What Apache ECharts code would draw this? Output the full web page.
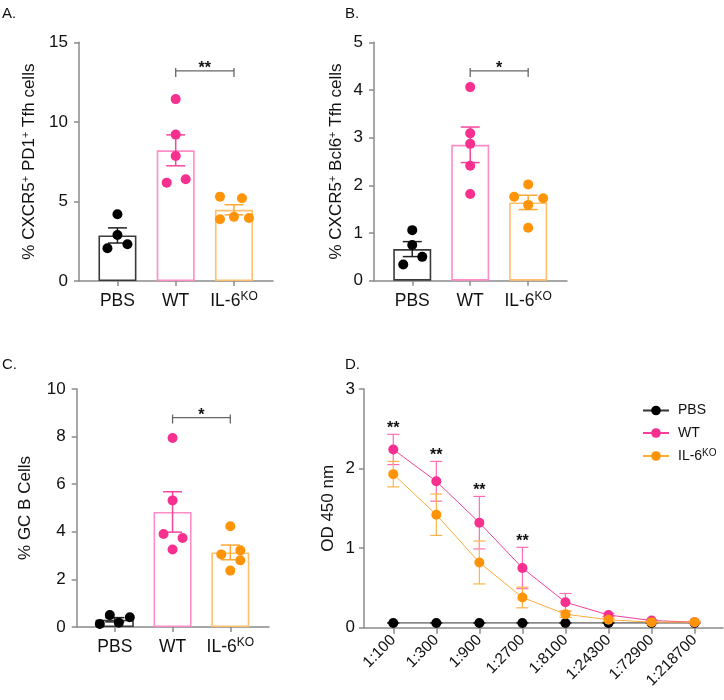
<!DOCTYPE html>
<html><head><meta charset="utf-8">
<script src="https://cdn.jsdelivr.net/npm/echarts@6/dist/echarts.min.js"></script>
<style>html,body{margin:0;padding:0;background:#fff}#c{width:724px;height:700px}</style>
</head><body><div id="c"></div>
<script>
// ================= DATA =================
const groups = ['PBS', 'WT', 'IL-6KO'];

// A. % CXCR5+ PD1+ Tfh cells
const pd1PBS = [4.19, 2.89, 2.06, 2.31];
const pd1WT  = [11.43, 9.20, 7.86, 6.18, 6.39];
const pd1KO  = [5.30, 5.20, 3.88, 4.03, 3.96];

// B. % CXCR5+ Bcl6+ Tfh cells
const bcl6PBS = [1.06, 0.75, 0.50, 0.34];
const bcl6WT  = [4.06, 3.09, 2.87, 2.41, 1.82];
const bcl6KO  = [2.02, 1.76, 1.73, 1.59, 1.11];

// C. % GC B Cells
const gcbPBS = [0.13, 0.50, 0.18, 0.41];
const gcbWT  = [7.94, 5.32, 3.91, 3.74, 3.26];
const gcbKO  = [4.23, 3.05, 3.22, 2.80, 2.37];

// significance WT vs IL-6KO for A, B, C
const sigABC = ['**', '*', '*'];

// y ticks
const ticksA = [0, 5, 10, 15];
const ticksB = [0, 1, 2, 3, 4, 5];
const ticksC = [0, 2, 4, 6, 8, 10];
const ticksD = [0, 1, 2, 3];

// D. OD 450 nm vs dilution
const dilutions = ['1:100', '1:300', '1:900', '1:2700', '1:8100', '1:24300', '1:72900', '1:218700'];
const odPBS    = [0.06, 0.06, 0.06, 0.06, 0.06, 0.06, 0.06, 0.06];
const odPBSsem = [0.005, 0.005, 0.005, 0.005, 0.005, 0.005, 0.005, 0.005];
const odWT     = [2.24, 1.84, 1.32, 0.75, 0.32, 0.16, 0.09, 0.07];
const odWTsem  = [0.19, 0.25, 0.33, 0.26, 0.11, 0.02, 0.01, 0.01];
const odKO     = [1.93, 1.42, 0.82, 0.38, 0.17, 0.10, 0.07, 0.07];
const odKOsem  = [0.16, 0.26, 0.27, 0.13, 0.04, 0.02, 0.01, 0.01];
const odSig    = ['**', '**', '**', '**', '', '', '', ''];

// ================= STYLE / LAYOUT =================
const FONT = 'Liberation Sans, Arial, Helvetica, sans-serif';
const AXIS = '#8a8a8a';
const dotCol = ['#000000', '#f72f8f', '#ff9408'];
const barCol = ['#3a3a3a', '#ff8cc6', '#ffc06c'];
const errCol = ['#222222', '#f5489d', '#ffa835'];
const lineCol = ['#333333', '#f5409a', '#ffab3a'];
const dErrCol = ['#333333', '#ff6db4', '#ffb347'];
// horizontal jitter of dots (px), per panel/group/point
const jitA = [[0, 0, -10, 10], [0, 0, 0, -9, 10], [-14, 8, -14, 0, 15]];
const jitB = [[0, 0, 10, -9], [0, 0, 0, 0, 0], [0, -14, 15, 0, 0]];
const jitC = [[-15, -5, 4, 15], [0, 0, -9, 10, 0], [0, -9, 10, 10, 0]];

const mean = a => a.reduce((s, v) => s + v, 0) / a.length;
const sem = a => { const m = mean(a); return Math.sqrt(a.reduce((s, v) => s + (v - m) ** 2, 0) / (a.length - 1)) / Math.sqrt(a.length); };
const richName = s => s.endsWith('KO') ? `{m|${s.slice(0, -2)}}{s|KO}` : `{m|${s}}`;

const grids = [
  { left: 79, top: 42.3, width: 194, height: 238.7 },
  { left: 374, top: 42.3, width: 193, height: 238.4 },
  { left: 76.7, top: 389, width: 192.3, height: 238 },
  { left: 364, top: 389, width: 359, height: 238.7 }
].map(g => Object.assign({ containLabel: false, outerBoundsMode: 'none' }, g));

const supRich = {
  sup: { fontSize: 11, fontFamily: FONT, color: '#111', verticalAlign: 'top', lineHeight: 17 }
};

function yAxisDef(gi, ticks, name, gap, margin) {
  return {
    type: 'value', gridIndex: gi, min: ticks[0], max: ticks[ticks.length - 1],
    interval: ticks[1] - ticks[0],
    name: name, nameLocation: 'middle', nameGap: gap, nameRotate: 90,
    nameTextStyle: { fontSize: 17, fontFamily: FONT, color: '#111', rich: supRich },
    axisLine: { show: true, onZero: false, lineStyle: { color: AXIS, width: 1.5 } },
    axisTick: { show: true, length: 5, lineStyle: { color: AXIS, width: 1.5 } },
    axisLabel: { fontSize: 17, fontFamily: FONT, color: '#111', margin: margin },
    splitLine: { show: false }
  };
}
function catXAxis(gi) {
  return {
    type: 'value', gridIndex: gi, min: -0.66, max: 2.67,
    axisLine: { show: true, onZero: false, lineStyle: { color: AXIS, width: 1.5 } },
    axisTick: { show: true, length: 5, customValues: [0, 1, 2], lineStyle: { color: AXIS, width: 1.5 } },
    axisLabel: {
      customValues: [0, 1, 2], margin: 10,
      formatter: v => richName(groups[Math.round(v)]),
      rich: {
        m: { fontSize: 17.5, fontFamily: FONT, color: '#111', lineHeight: 20 },
        s: { fontSize: 12, fontFamily: FONT, color: '#111', verticalAlign: 'top', lineHeight: 20, padding: [0, 0, 6, 0] }
      }
    },
    splitLine: { show: false }
  };
}

function errRender(color, capHalf, lw) {
  return function (params, api) {
    const x = api.value(0), m = api.value(1), s = api.value(2);
    const t = api.coord([x, m + s]), b = api.coord([x, m - s]);
    const st = { stroke: color, lineWidth: lw };
    return { type: 'group', children: [
      { type: 'line', shape: { x1: t[0], y1: t[1], x2: b[0], y2: b[1] }, style: st },
      { type: 'line', shape: { x1: t[0] - capHalf, y1: t[1], x2: t[0] + capHalf, y2: t[1] }, style: st },
      { type: 'line', shape: { x1: b[0] - capHalf, y1: b[1], x2: b[0] + capHalf, y2: b[1] }, style: st }
    ] };
  };
}

const series = [];
function barPanel(gi, sets, jit, ticks, sig) {
  const means = sets.map(mean), sems = sets.map(sem);
  series.push({
    type: 'bar', xAxisIndex: gi, yAxisIndex: gi, barWidth: 38, z: 2, silent: true,
    data: means.map((m, i) => ({ value: [i, m], itemStyle: { color: 'rgba(255,255,255,0)', borderColor: barCol[i], borderWidth: 1.6 } }))
  });
  sets.forEach((arr, i) => {
    series.push({
      type: 'custom', xAxisIndex: gi, yAxisIndex: gi, z: 3, silent: true,
      renderItem: errRender(errCol[i], 9.5, 1.5),
      data: [[i, means[i], sems[i]]]
    });
    series.push({
      type: 'scatter', xAxisIndex: gi, yAxisIndex: gi, z: 4, symbolSize: 10, silent: true,
      itemStyle: { color: dotCol[i], opacity: 1 },
      data: arr.map((v, k) => ({ value: [i, v], symbolOffset: [jit[i][k], 0] }))
    });
  });
  const level = ticks[ticks.length - 1] * 0.88;
  series.push({
    type: 'custom', xAxisIndex: gi, yAxisIndex: gi, z: 5, silent: true,
    data: [[1, 2, level]],
    renderItem: function (params, api) {
      const p1 = api.coord([api.value(0), api.value(2)]);
      const p2 = api.coord([api.value(1), api.value(2)]);
      const st = { stroke: '#666', lineWidth: 1.3 };
      return { type: 'group', children: [
        { type: 'line', shape: { x1: p1[0], y1: p1[1], x2: p2[0], y2: p2[1] }, style: st },
        { type: 'line', shape: { x1: p1[0], y1: p1[1] - 3, x2: p1[0], y2: p1[1] + 6 }, style: st },
        { type: 'line', shape: { x1: p2[0], y1: p2[1] - 3, x2: p2[0], y2: p2[1] + 6 }, style: st },
        { type: 'text', style: { text: sig, x: (p1[0] + p2[0]) / 2, y: p1[1] - 2, align: 'center', verticalAlign: 'middle', fontSize: 16, fontWeight: 'bold', fontFamily: FONT, fill: '#111' } }
      ] };
    }
  });
}

barPanel(0, [pd1PBS, pd1WT, pd1KO], jitA, ticksA, sigABC[0]);
barPanel(1, [bcl6PBS, bcl6WT, bcl6KO], jitB, ticksB, sigABC[1]);
barPanel(2, [gcbPBS, gcbWT, gcbKO], jitC, ticksC, sigABC[2]);

// Panel D
const dSets = [[odPBS, odPBSsem], [odWT, odWTsem], [odKO, odKOsem]];
[0, 1, 2].forEach(i => {
  const [vals, sems] = dSets[i];
  series.push({
    type: 'custom', xAxisIndex: 3, yAxisIndex: 3, z: 3 + i * 2, silent: true,
    renderItem: errRender(dErrCol[i], 6, 1.2),
    data: vals.map((v, k) => [k, v, sems[k]])
  });
  series.push({
    name: groups[i], type: 'line', xAxisIndex: 3, yAxisIndex: 3, z: 4 + i * 2,
    symbol: 'circle', symbolSize: 10, showSymbol: true, silent: true,
    itemStyle: { color: dotCol[i] },
    lineStyle: { color: lineCol[i], width: 1 },
    data: vals.map((v, k) => [k, v])
  });
});
series.push({
  type: 'custom', xAxisIndex: 3, yAxisIndex: 3, z: 10, silent: true,
  data: odWT.map((v, k) => [k, v + odWTsem[k], k]).filter(d => odSig[d[2]]),
  renderItem: function (params, api) {
    const p = api.coord([api.value(0), api.value(1)]);
    return { type: 'text', style: { text: odSig[api.value(2)], x: p[0], y: p[1] - 6, align: 'center', verticalAlign: 'middle', fontSize: 16, fontWeight: 'bold', fontFamily: FONT, fill: '#111' } };
  }
});

const option = {
  animation: false,
  backgroundColor: '#ffffff',
  grid: grids,
  xAxis: [catXAxis(0), catXAxis(1), catXAxis(2), {
    type: 'value', gridIndex: 3, min: -0.68, max: 7.66,
    axisLine: { show: true, onZero: false, lineStyle: { color: AXIS, width: 1.5 } },
    axisTick: { show: true, length: 6, customValues: [0, 1, 2, 3, 4, 5, 6, 7], lineStyle: { color: AXIS, width: 1.5 } },
    axisLabel: { customValues: [0, 1, 2, 3, 4, 5, 6, 7], rotate: 45, margin: 10, fontSize: 15.5, fontFamily: FONT, color: '#111',
      formatter: v => dilutions[Math.round(v)] },
    splitLine: { show: false }
  }],
  yAxis: [
    yAxisDef(0, ticksA, '% CXCR5{sup|+} PD1{sup|+} Tfh cells', 41.5, 11),
    yAxisDef(1, ticksB, '% CXCR5{sup|+} Bcl6{sup|+} Tfh cells', 29.5, 11),
    yAxisDef(2, ticksC, '% GC B Cells', 42.5, 11),
    yAxisDef(3, ticksD, 'OD 450 nm', 27.5, 9)
  ],
  legend: {
    data: groups, orient: 'vertical', left: 637, top: 398.5,
    itemWidth: 26, itemHeight: 12, itemGap: 8.5,
    formatter: n => richName(n),
    textStyle: { fontSize: 14, fontFamily: FONT, color: '#111', padding: [0, 0, 0, 4],
      rich: {
        m: { fontSize: 14, fontFamily: FONT, color: '#111' },
        s: { fontSize: 10, fontFamily: FONT, color: '#111', verticalAlign: 'top', padding: [0, 0, 5, 0] }
      } }
  },
  graphic: [
    { type: 'text', left: 2, top: 6, style: { text: 'A.', fontSize: 15, fontFamily: FONT, fill: '#111' } },
    { type: 'text', left: 345, top: 6, style: { text: 'B.', fontSize: 15, fontFamily: FONT, fill: '#111' } },
    { type: 'text', left: 2, top: 357, style: { text: 'C.', fontSize: 15, fontFamily: FONT, fill: '#111' } },
    { type: 'text', left: 345, top: 357, style: { text: 'D.', fontSize: 15, fontFamily: FONT, fill: '#111' } }
  ],
  series: series
};
const chart = echarts.init(document.getElementById('c'), null, { renderer: 'canvas' });
chart.setOption(option);
</script>
</body></html>
